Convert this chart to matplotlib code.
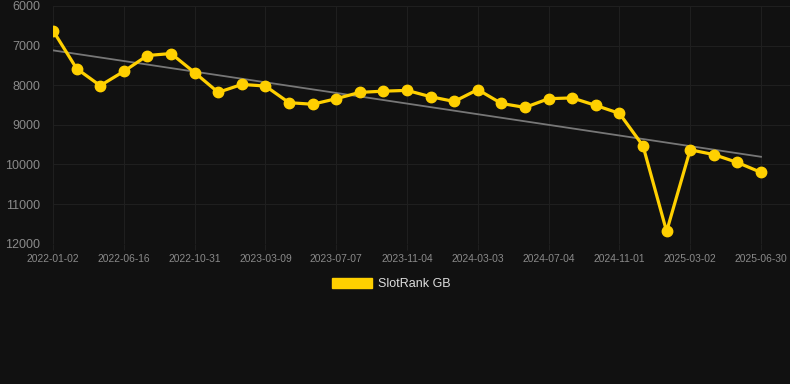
import matplotlib
matplotlib.use("Agg")
import matplotlib.pyplot as plt
from matplotlib.patches import Patch
import numpy as np

plt.rcParams['font.family'] = ['Liberation Sans', 'DejaVu Sans']

tick_labels = ["2022-01-02", "2022-06-16", "2022-10-31", "2023-03-09", "2023-07-07",
               "2023-11-04", "2024-03-03", "2024-07-04", "2024-11-01", "2025-03-02",
               "2025-06-30"]
rank_values = [6620, 7580, 8010, 7650, 7250, 7200, 7680, 8180, 7980, 8020,
               8440, 8480, 8340, 8180, 8150, 8130, 8290, 8410, 8110, 8460,
               8560, 8340, 8320, 8510, 8710, 9530, 11690, 9630, 9750, 9950,
               10200]
series_name = "SlotRank GB"

BG = "#111111"
YELLOW = "#FFD000"

W, H = 790, 384
fig = plt.figure(figsize=(W / 100, H / 100), dpi=100, facecolor=BG)
left, right, top, bottom = 53, 790, 6, 243.7
ax = fig.add_axes([left / W, 1 - bottom / H, (right - left) / W, (bottom - top) / H])
ax.set_facecolor(BG)

x = np.arange(len(rank_values))
y = np.array(rank_values, dtype=float)

# trend line
coef = np.polyfit(x, y, 1)
ax.plot(x, np.polyval(coef, x), color="#777777", lw=1.3, zorder=2)

ax.plot(x, y, color=YELLOW, lw=2.3, marker="o", ms=7.5, mfc=YELLOW, mec=YELLOW, zorder=3)

n = len(rank_values) - 1
ax.set_xlim(0, n * (right - left) / (761 - left))
ax.set_ylim(12000, 6000)
ax.set_yticks(np.arange(6000, 12001, 1000))
ax.set_xticks(np.arange(0, len(rank_values), 3))
ax.set_xticklabels(tick_labels)

ax.grid(True, color="#1f1f1f", lw=0.8)
ax.set_axisbelow(True)
for s in ax.spines.values():
    s.set_visible(False)
ax.tick_params(axis="y", length=0, pad=9, labelsize=9, labelcolor="#8a8a8a")
ax.tick_params(axis="x", length=4, color="#1f1f1f", pad=3.5, labelsize=7.4, labelcolor="#8a8a8a")

fig.legend(handles=[Patch(facecolor=YELLOW, edgecolor=YELLOW)], labels=[series_name],
           loc="center", bbox_to_anchor=(391 / W, 1 - 284 / H), frameon=False,
           fontsize=9, labelcolor="#dddddd", handlelength=3.2, handleheight=0.95,
           handletextpad=0.5)

fig.savefig("out.png", dpi=100, facecolor=BG)
